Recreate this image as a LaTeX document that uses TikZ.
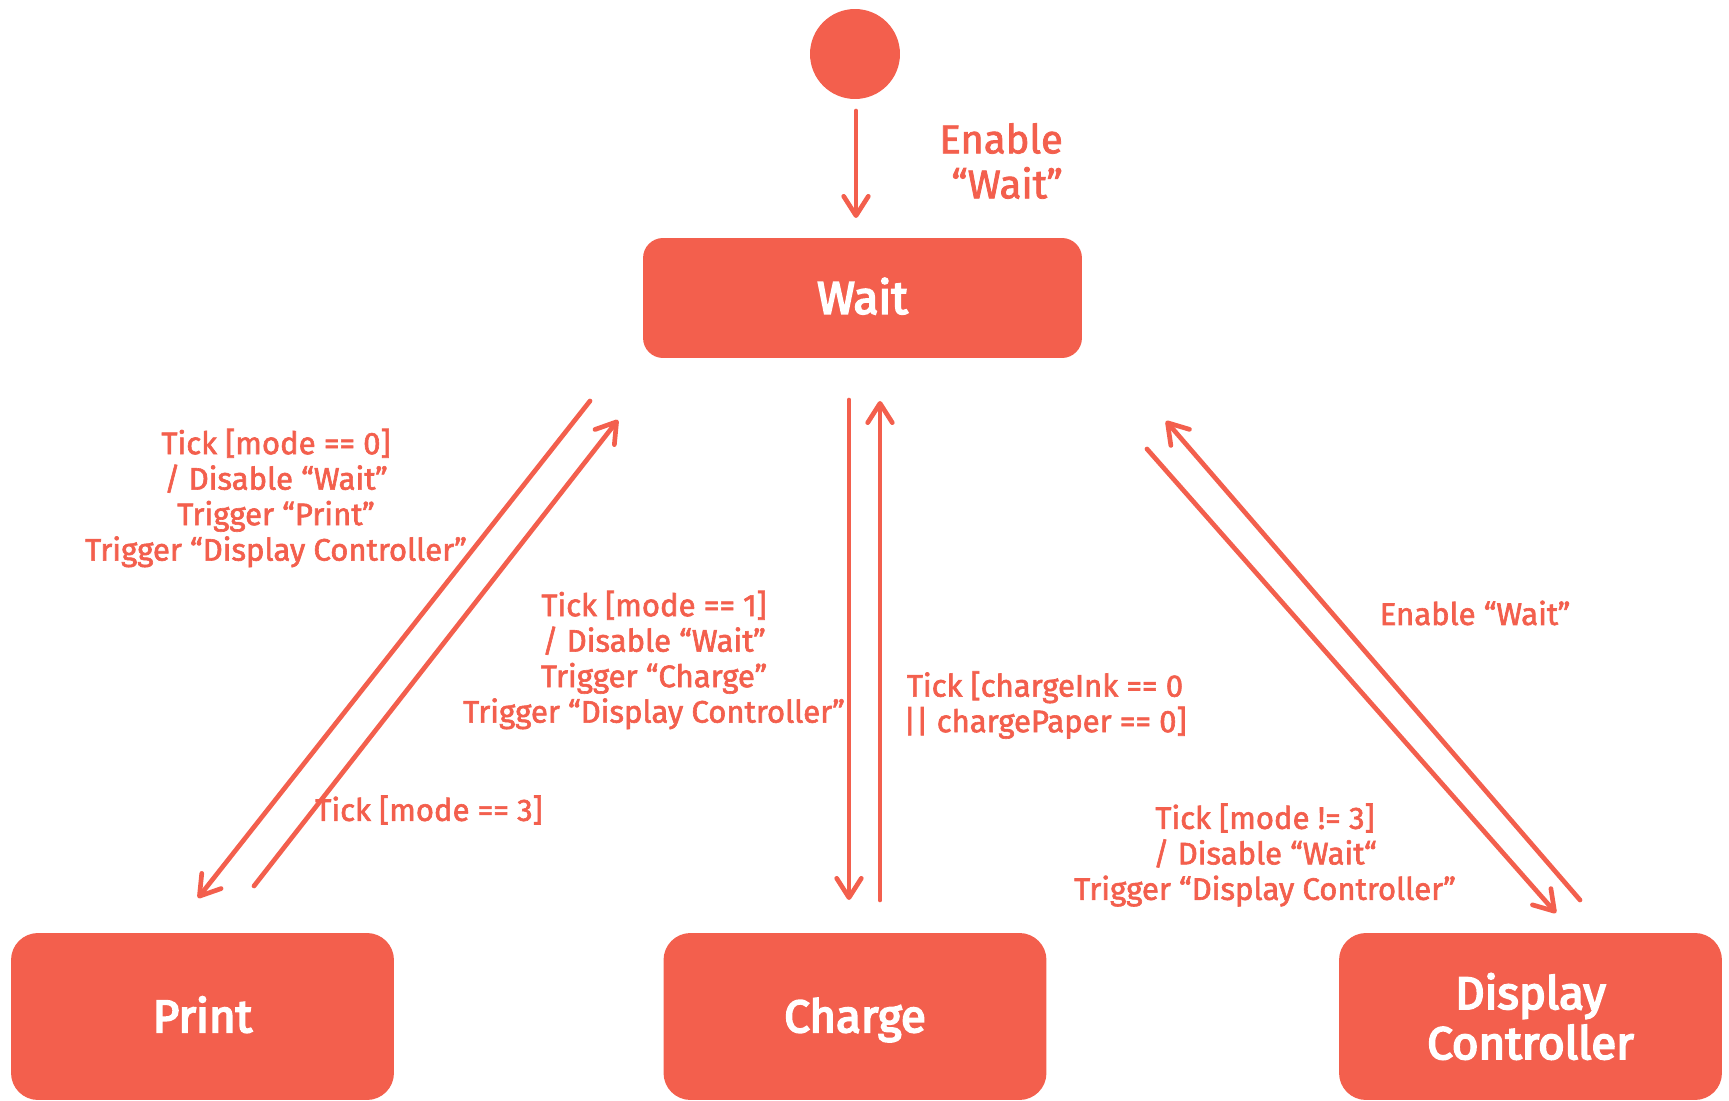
\documentclass[tikz,border=0pt]{standalone}
\usepackage{fontspec}
\setmainfont{Fira Sans}
\newfontfamily\statefont{Fira Sans}[FakeBold=4]
\newfontfamily\transfont{Fira Sans}[FakeBold=2]
\usepackage{tikz}
\usetikzlibrary{arrows.meta}
\definecolor{statered}{RGB}{243,95,77}
\tikzset{>={Straight Barb[length=11pt,width=14pt,round]}}
\tikzset{
    state/.style={rectangle, fill=statered, text=white, align=center, inner sep=0pt,
        font=\statefont\fontsize{26}{28.5}\selectfont},
    lowstate/.style={state, minimum width=7.66cm, minimum height=3.34cm, rounded corners=0.54cm},
    oneline/.style={text height=23.4pt, text depth=5.5pt},
    trans/.style={text=statered, align=center, font=\transfont\fontsize{17.7}{20.2}\selectfont},
    flow/.style={->, draw=statered, line width=2.67pt, line cap=round},
}

\begin{document}
\begin{tikzpicture}[x=0.02cm, y=-0.02cm]
    \useasboundingbox (0,0) rectangle (1729,1101);

    % Start point
    \node[circle, fill=statered, minimum size=1.8cm, inner sep=0pt] (start) at (855,54) {};
    \coordinate (S0) at (856,111);
    \coordinate (S1) at (856,218);

    % States
    \node[state, oneline, minimum width=8.78cm, minimum height=2.4cm, rounded corners=0.4cm] (wait) at (862.5,298) {Wait};
    \node[lowstate, oneline] (print) at (202.5,1016.5) {Print};
    \node[lowstate, oneline] (charge) at (855,1016.5) {Charge};
    \node[lowstate] (display) at (1530.5,1016.5) {Display\\Controller};

    % Wait <-> Print
    \coordinate (WP0) at (590,401);
    \coordinate (WP1) at (198,898);
    \coordinate (PW0) at (254,886);
    \coordinate (PW1) at (618,420);

    % Wait <-> Charge
    \coordinate (WC0) at (849,400);
    \coordinate (WC1) at (849,900);
    \coordinate (CW0) at (880,900);
    \coordinate (CW1) at (880,401);

    % Wait <-> Display Controller
    \coordinate (WD0) at (1147,449);
    \coordinate (WD1) at (1556,913);
    \coordinate (DW0) at (1580,900);
    \coordinate (DW1) at (1166,421);

    % Transitions
    \draw[flow] (S0) -- (S1);
    \draw[flow] (WP0) -- (WP1);
    \draw[flow] (PW0) -- (PW1);
    \draw[flow] (WC0) -- (WC1);
    \draw[flow] (CW0) -- (CW1);
    \draw[flow] (WD0) -- (WD1);
    \draw[flow] (DW0) -- (DW1);

    % Labels
    \node[trans, align=right, anchor=east, font=\transfont\fontsize{22.8}{25.6}\selectfont] (enable) at (1069,161) {Enable\\“Wait”};
    \node[trans] (toprint) at (276,498) {Tick [mode == 0]\\/ Disable “Wait”\\Trigger “Print”\\Trigger “Display Controller”};
    \node[trans] (tocharge) at (654,660) {Tick [mode == 1]\\/ Disable “Wait”\\Trigger “Charge”\\Trigger “Display Controller”};
    \node[trans] (fromprint) at (429,810) {Tick [mode == 3]};
    \node[trans] (fromcharge) at (1045,705) {Tick [chargeInk == 0\\|| chargePaper == 0]};
    \node[trans] (fromdisplay) at (1475,613) {Enable “Wait”};
    \node[trans] (todisplay) at (1265,855) {Tick [mode != 3]\\/ Disable “Wait“\\Trigger “Display Controller”};

\end{tikzpicture}
\end{document}
